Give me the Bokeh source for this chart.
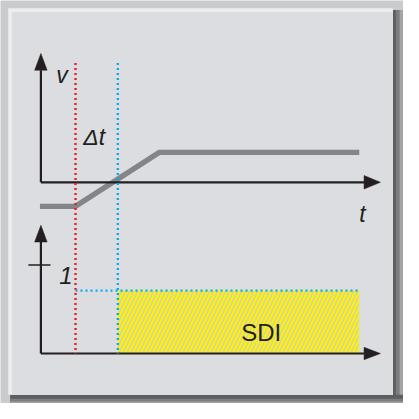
from bokeh.plotting import figure
from bokeh.models import Range1d
from bokeh.core.properties import value
from bokeh.embed import file_html
from bokeh.resources import INLINE

# ---------------- data (schematic units) ----------------
# time axis
t_axis_end = 35.3          # tip of both t axes
t_red = 3.6                # red dotted marker (start of change)
t_blue = 8.0               # blue dotted marker (after delta t)
t_curve_end = 33.1         # end of the curves / SDI area

# upper panel: speed v(t)
v_curve_t = [-0.1, 3.6, 12.3, 33.1]
v_curve_v = [-2.5, -2.5, 3.1, 3.1]
v_axis_top = 13.4
marker_top = 12.4          # top of the dotted markers

# lower panel: SDI indicator
sdi_level = 0.71
sdi_tick = 1.0
sdi_tick_label = "1"
sdi_axis_top = 1.45

labels_top = ["v", "\u0394t", "t"]
label_sdi = "SDI"

# ---------------- layout ----------------
W = H = 403
X_RANGE = (-4.2, 37.7)
V_RANGE = (-23.0, 18.9)
S_RANGE = (-0.565, 3.989)


def s_to_v(s):
    return V_RANGE[0] + (s - S_RANGE[0]) / (S_RANGE[1] - S_RANGE[0]) * (V_RANGE[1] - V_RANGE[0])


FRAME = "#cacbcd"
PANEL = "#dcdde0"
INK = "#231f20"
RED = "#ed1c24"
BLUE = "#00aeef"
YELLOW = "#fff200"
GREY = "#838588"
FONT = "Liberation Sans"

p = figure(width=W, height=H, x_range=Range1d(*X_RANGE), y_range=Range1d(*V_RANGE),
           output_backend="svg", toolbar_location=None, min_border=0,
           x_axis_location=None, y_axis_location=None,
           background_fill_color=FRAME, border_fill_color=FRAME,
           outline_line_color=None)
p.extra_y_ranges = {"sdi": Range1d(*S_RANGE)}
p.grid.visible = False

# panel with bevel and drop shadow (decoration)
p.quad(left=[36.6, 36.9, 37.3], right=[37.7, 37.7, 37.7], bottom=[-23.0] * 3, top=[17.9] * 3,
       fill_color=["#5d5e60", "#7c7d7f", "#a3a4a6"], line_color=None)
p.quad(left=[-3.2, -3.2, -3.2], right=[37.7] * 3, bottom=[-23.0] * 3, top=[-22.1, -22.5, -22.8],
       fill_color=["#5d5e60", "#7c7d7f", "#a3a4a6"], line_color=None)
p.quad(left=[-3.4], right=[36.6], bottom=[-22.1], top=[18.1],
       fill_color="#ecedef", line_color=None)
p.quad(left=[-3.0], right=[36.6], bottom=[-22.1], top=[17.7],
       fill_color=PANEL, line_color=None)

# SDI hatched area
p.quad(left=[t_blue], right=[t_curve_end], bottom=[0], top=[sdi_level], y_range_name="sdi",
       fill_color=YELLOW, line_color=None, hatch_pattern="/", hatch_color="#cfcfbe",
       hatch_alpha=1.0, hatch_scale=8, hatch_weight=1.4)

# speed curve
p.line(v_curve_t, v_curve_v, line_color=GREY, line_width=5.3, line_join="miter")

# axes (lines + arrow heads)
hl_t, hh_t = 1.7, 0.65        # arrow head length / half width along t
hl_v, hh_v = 1.75, 0.7
hl_s, hh_s = 0.19, 0.07
p.segment(x0=[0, 0], y0=[0, 0], x1=[0, t_axis_end - hl_t],
          y1=[v_axis_top - hl_v, 0], line_color=INK, line_width=2.2)
p.segment(x0=[0, 0], y0=[0, 0], x1=[0, t_axis_end - hl_t],
          y1=[sdi_axis_top - hl_s, 0], line_color=INK, line_width=2.2,
          y_range_name="sdi")
p.patches(xs=[[0, -hh_t, hh_t], [t_axis_end, t_axis_end - hl_t, t_axis_end - hl_t]],
          ys=[[v_axis_top, v_axis_top - hl_v, v_axis_top - hl_v], [0, hh_v, -hh_v]],
          fill_color=INK, line_color=INK, line_width=0.5)
p.patches(xs=[[0, -hh_t, hh_t], [t_axis_end, t_axis_end - hl_t, t_axis_end - hl_t]],
          ys=[[sdi_axis_top, sdi_axis_top - hl_s, sdi_axis_top - hl_s], [0, hh_s, -hh_s]],
          fill_color=INK, line_color=INK, line_width=0.5, y_range_name="sdi")

# tick "1"
p.segment(x0=[-1.3], x1=[1.0], y0=[sdi_tick], y1=[sdi_tick],
          line_color=INK, line_width=1.4, y_range_name="sdi")

# dotted markers
v_bottom = s_to_v(0)
p.segment(x0=[t_red], x1=[t_red], y0=[marker_top], y1=[v_bottom],
          line_color=RED, line_width=2.4, line_dash="2 3")
p.segment(x0=[t_blue], x1=[t_blue], y0=[marker_top], y1=[v_bottom],
          line_color=BLUE, line_width=2.4, line_dash="2 3")
p.segment(x0=[t_red], x1=[t_curve_end], y0=[sdi_level], y1=[sdi_level],
          line_color=BLUE, line_width=2.4, line_dash="2 3", y_range_name="sdi")

# labels
p.text(x=[1.6, 4.4, 33.1], y=[11.2, 4.7, -3.3], text=labels_top, text_font=value(FONT),
       text_font_style="italic", text_font_size="23px", text_color=INK,
       text_align="left", text_baseline="alphabetic")
p.text(x=[1.9], y=[0.88], text=[sdi_tick_label], text_font=value(FONT),
       text_font_style="italic", text_font_size="24px", text_color=INK,
       text_align="left", text_baseline="alphabetic", y_range_name="sdi")
p.text(x=[22.9], y=[0.24], text=[label_sdi], text_font=value(FONT),
       text_font_size="24px", text_color=INK, text_align="center",
       text_baseline="alphabetic", y_range_name="sdi")

open("out.html", "w").write(file_html(p, INLINE))
